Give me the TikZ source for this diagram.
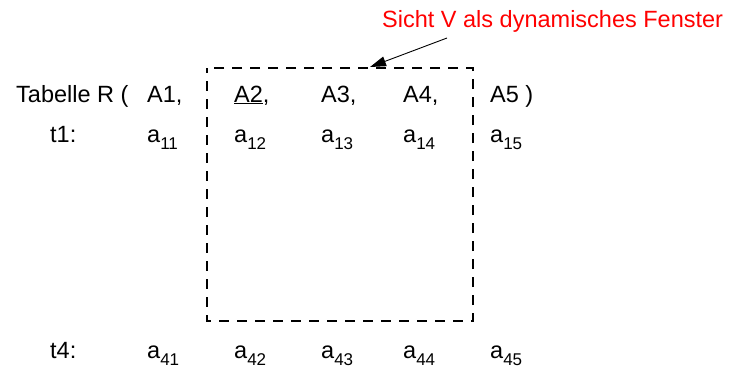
\documentclass[tikz,border=0pt]{standalone}
\usepackage{fontspec}
\setmainfont{Liberation Sans}
\usetikzlibrary{arrows.meta}
\newcommand{\lowidx}[1]{\raisebox{-0.3em}{\fontsize{17}{17}\selectfont #1}}
\begin{document}
\begin{tikzpicture}[x=1pt, y=-1pt, font=\fontsize{23.5}{28}\selectfont]
\tikzset{cell/.style={anchor=base west, inner sep=0pt}}
\useasboundingbox (0,0) rectangle (731,368);
% header row
\node[cell] (hdr) at (16,102) {Tabelle R (};
\node[cell] (c1) at (147,102) {A1,};
\node[cell] (c2) at (234,102) {\underline{A2},};
\node[cell] (c3) at (321,102) {A3,};
\node[cell] (c4) at (403,102) {A4,};
\node[cell] (c5) at (490,102) {A5 )};
% tuple t1
\node[cell] (t1) at (50,142) {t1:};
\node[cell] (v11) at (147,142) {a\lowidx{11}};
\node[cell] (v12) at (234,142) {a\lowidx{12}};
\node[cell] (v13) at (321,142) {a\lowidx{13}};
\node[cell] (v14) at (403,142) {a\lowidx{14}};
\node[cell] (v15) at (490,142) {a\lowidx{15}};
% tuple t4
\node[cell] (t4) at (50,358) {t4:};
\node[cell] (v41) at (147,358) {a\lowidx{41}};
\node[cell] (v42) at (234,358) {a\lowidx{42}};
\node[cell] (v43) at (321,358) {a\lowidx{43}};
\node[cell] (v44) at (403,358) {a\lowidx{44}};
\node[cell] (v45) at (490,358) {a\lowidx{45}};
% view window
\coordinate (vnw) at (207,68);
\coordinate (vse) at (473,321);
\draw[line width=1.3pt, dash pattern=on 10pt off 8pt, dash phase=5pt] (vnw) rectangle (vse);
\node[cell, text=red] (view) at (382,27) {Sicht V als dynamisches Fenster};
\coordinate (vtip) at (370,67);
\draw[line width=0.9pt, -{Triangle[length=16pt, width=10pt]}] ([xshift=65pt, yshift=-11pt]view.base west) -- (vtip);
\end{tikzpicture}
\end{document}
